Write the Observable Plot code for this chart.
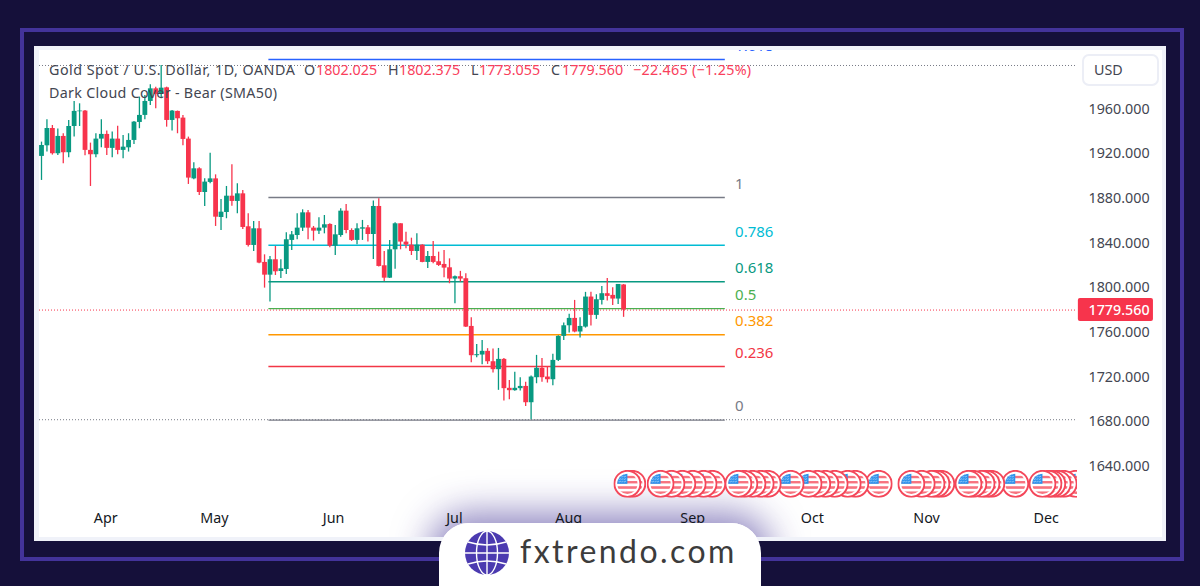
<!DOCTYPE html>
<html><head><meta charset="utf-8">
<script src="https://cdn.jsdelivr.net/npm/d3@7"></script>
<script src="https://cdn.jsdelivr.net/npm/@observablehq/plot@0.6"></script>
<style>
html,body{margin:0;padding:0;width:1200px;height:586px;overflow:hidden;background:#15103a;font-family:"Noto Sans",sans-serif}
.abs{position:absolute}
#frame{left:20px;top:28px;width:1156px;height:525px;border:4.5px solid #43339a;box-sizing:content-box}
#card{left:34px;top:46px;width:1132px;height:495px;background:#fff;overflow:hidden}
#glow{position:absolute;left:405px;top:477px;width:322px;height:90px;border-radius:30px;box-shadow:0 0 36px 10px rgba(50,32,140,.55)}
#band{left:34px;top:46px;width:1132px;height:495px;box-sizing:border-box;border:solid #f0f2f9;border-width:4px 4px 4.5px 5px;pointer-events:none}
.t{position:absolute;white-space:nowrap;font-size:14.3px;line-height:18px;color:#434651}
.r{color:#f9405c}
#usd{left:1082px;top:54px;width:77px;height:32px;box-sizing:border-box;border:2px solid #eceef6;border-radius:7px;font-size:14.3px;color:#434651;line-height:28px;padding-left:10px}
#pill{left:439px;top:523px;width:322px;height:90px;background:#fff;border-radius:30px 30px 0 0}
#logo{left:520px;top:531px;font-family:Lato,sans-serif;font-size:32px;line-height:40px;letter-spacing:2.45px;color:#3c3c3c}
</style></head><body>
<div class="abs" id="frame"></div>
<div class="abs" id="card"><div id="glow"></div></div>
<div id="plot" class="abs" style="left:34px;top:46px"></div>
<div class="abs" id="band"></div>
<div class="t" style="left:49px;top:61px;letter-spacing:.5px">Gold Spot / U.S. Dollar, 1D, OANDA</div>
<div class="t" style="left:304px;top:61px">O</div><div class="t r" style="left:316px;top:61px">1802.025</div>
<div class="t" style="left:388px;top:61px">H</div><div class="t r" style="left:399px;top:61px">1802.375</div>
<div class="t" style="left:471px;top:61px">L</div><div class="t r" style="left:479px;top:61px">1773.055</div>
<div class="t" style="left:551px;top:61px">C</div><div class="t r" style="left:562px;top:61px">1779.560</div>
<div class="t r" style="left:633px;top:61px;letter-spacing:.3px">−22.465 (−1.25%)</div>
<div class="t" style="left:49px;top:84px;letter-spacing:.3px">Dark Cloud Cover - Bear (SMA50)</div>
<div class="abs" id="usd">USD</div>
<div class="abs" id="pill"></div>
<svg class="abs" style="left:465px;top:531px" width="44" height="44" viewBox="-22 -22 44 44">
<circle r="22" fill="#4b3ab0"/>
<g fill="none" stroke="#fff" stroke-width="1.4"><ellipse rx="10.5" ry="22"/><line y1="-22" y2="22"/><line x1="-22" x2="22"/><path d="M-19-11Q0-5 19-11M-19 11Q0 5 19 11"/></g></svg>
<div class="abs" id="logo">fxtrendo.com</div>
<script>
const open = [1917.1,1926.6,1942.1,1919.5,1935,1920.4,1943.9,1957.1,1957.7,1922.5,1918.6,1932.6,1936.8,1924.3,1932.6,1922.5,1924.8,1931.4,1947.5,1953.8,1966.3,1977.6,1973.2,1978.5,1949.3,1957.4,1951.4,1932.6,1897,1906,1884.8,1893.8,1897,1862.4,1866.9,1881.5,1876.8,1883.6,1854.1,1837.4,1852.3,1822.2,1810.8,1824.6,1814.1,1815.9,1841.9,1846.3,1852.9,1866.6,1852.9,1850.2,1852.9,1856.2,1836.8,1846.3,1868.1,1850.8,1841.9,1852,1853.2,1847.2,1872.3,1819.2,1808.1,1833.5,1856.8,1840.4,1837.7,1832,1837.7,1822.2,1827.5,1822.8,1820.4,1817.4,1807.3,1809.4,1807.6,1764.9,1738.7,1739.3,1742.6,1733.3,1726.2,1735.4,1709.5,1707.4,1709.2,1711.2,1696.6,1719,1727.4,1719.6,1717.2,1734.5,1756,1765.5,1772.1,1759.9,1764.3,1791.2,1774.8,1788.2,1794.2,1792.7,1789.4,1802.025];
const close = [1926.9,1942.1,1919.5,1935,1920.4,1943.9,1957.4,1957.7,1922.5,1918.6,1932.6,1936.8,1924.3,1932.6,1922.5,1925.4,1931.4,1947.8,1953.8,1966.3,1977.6,1972.6,1978.2,1949.3,1957.7,1950.8,1932.3,1897.7,1906,1884.8,1894.1,1897,1862.7,1867.2,1881.5,1876.8,1883.6,1853.5,1837.4,1852.3,1821.6,1810.8,1824.6,1813.8,1816.5,1842.5,1846.9,1852.9,1866.6,1852.9,1850.2,1852.9,1855.9,1836.8,1846.9,1868.1,1850.8,1841.9,1852.3,1853.2,1847.2,1872.3,1818.6,1808.1,1833.5,1856.8,1840.4,1837.7,1832,1837.7,1822.2,1827.5,1822.2,1819.5,1817.1,1807.3,1809.4,1807.3,1764.3,1738.7,1739.6,1742.6,1733.3,1726.2,1735.4,1709.2,1707.4,1709.5,1711.2,1696.6,1719.6,1727.4,1719,1717.2,1734.5,1756,1765.5,1772.1,1759.9,1764.9,1791.2,1774.8,1788.8,1794.2,1791.8,1789.4,1802.5,1779.56];
const high = [1929.9,1949.9,1944.8,1941.6,1937.4,1949.3,1966.3,1964.2,1958.3,1929,1937.4,1949.9,1939.8,1939,1944.2,1935.9,1937.4,1948.4,1970.2,1971.7,1981.2,1979.1,1998.5,1979.1,1958.3,1957.7,1953.8,1934.4,1911.4,1906.9,1897,1920,1900.6,1878.6,1890.2,1909.6,1892.6,1886.6,1865.7,1858.9,1858.9,1829,1827.5,1836.5,1824.6,1848.7,1849.9,1865.7,1869.3,1868.7,1854.4,1862.1,1864.2,1856.8,1855.3,1870.2,1874.1,1852.3,1856.8,1859.8,1855.3,1877.1,1879.1,1832,1841.9,1857.7,1856.8,1849.3,1843.9,1847.8,1838,1832,1841,1831.4,1832.9,1825.4,1810,1814.2,1812.1,1772.7,1748.8,1752.4,1745,1744.7,1745.2,1736.3,1716.6,1723.8,1719,1715,1720.5,1739,1736.3,1728.5,1739.9,1756.6,1767.9,1775.7,1788.2,1772.7,1795.4,1795.4,1793.3,1800.7,1807.9,1799.5,1802.5,1802.375];
const low = [1895.6,1921,1918.3,1918,1910.5,1915.9,1934.4,1943.9,1917.7,1890.2,1915.9,1924.8,1918,1915.9,1918.6,1915,1921,1927.8,1941.9,1949.9,1962.7,1959.7,1968.7,1943.3,1939.8,1937.4,1926.6,1892,1896.2,1882.1,1872.3,1892.6,1854.4,1850.8,1861.3,1872.6,1865.7,1851.7,1835.9,1832,1821,1799.2,1786.7,1810.5,1807.8,1811.4,1832.9,1842.5,1849.9,1842.5,1841.3,1847.2,1847.8,1835.3,1828.4,1844.8,1847.8,1841,1838,1841.9,1840.4,1824.9,1818,1805.2,1807.8,1816.2,1833.5,1834.4,1828.4,1824,1821.9,1816.8,1821,1818.6,1808.4,1803.1,1785.2,1804.6,1764,1732.4,1736.9,1730.6,1730.9,1723.2,1707.7,1698.1,1699.3,1706.8,1707,1693.3,1681.4,1713.6,1715,1714.2,1711.8,1733.6,1752.4,1759,1759.2,1754.5,1763.4,1765.2,1771.2,1784,1787.6,1783.7,1784.6,1773.055];

const monthNames = ["Apr","May","Jun","Jul","Aug","Sep","Oct","Nov","Dec"];
const monthBars = [11.8,31.8,53.7,75.9,96.9,119.7,141.7,162.7,184.7];
const priceTicks = [1640,1680,1720,1760,1800,1840,1880,1920,1960];

const fibLevels = ["0","0.236","0.382","0.5","0.618","0.786","1","1.618"];
const fibPrices = [1681,1729,1757.4,1780.8,1804.9,1837.6,1880.3,2003.9];
const fibColors = ["#787b86","#f23645","#ff9800","#4caf50","#089981","#00bcd4","#787b86","#2962ff"];
const fibFrom = 41.8, fibTo = 125.7, fibLabelBar = 127.5;

const eventBars = [107.7,108.6,113.8,115.8,117.8,119.7,121.7,123.3,128.1,129.2,130.7,132.2,133.5,137.7,141,142.6,144.1,145.8,148.2,149.6,153.9,159.9,161.8,163.6,164.5,165.4,170.4,171.3,172.8,173.7,174.6,179,184,185.1,185.8,186.8,187.9,190.1];
const eventPrice = 1624;

const UP = "#089981", DOWN = "#f7344c";
const bars = open.map((o,i)=>({i,open:o,close:close[i],high:high[i],low:low[i],color:close[i]>=o?UP:DOWN}));
const fibs = fibLevels.map((level,k)=>({level,price:fibPrices[k],color:fibColors[k]}));
const events = eventBars.slice().reverse().map(x=>({x}));
const lastClose = close[close.length-1];

const flag = `<svg xmlns="http://www.w3.org/2000/svg" viewBox="0 0 28 28"><defs><clipPath id="c"><circle cx="14" cy="14" r="10.2"/></clipPath></defs><circle cx="14" cy="14" r="13" fill="#fff" stroke="#f4475a" stroke-width="1.9"/><g clip-path="url(#c)"><rect width="28" height="28" fill="#fff"/><rect x="2" y="6" width="24" height="2.4" fill="#f7737f"/><rect x="2" y="11.2" width="24" height="2.4" fill="#f7737f"/><rect x="2" y="16.4" width="24" height="2.6" fill="#f7737f"/><rect x="2" y="21.6" width="24" height="3" fill="#f7737f"/><rect x="3" y="3" width="11" height="11" fill="#2f92ec"/><path d="M6 4V14M8.5 4V14M11 4V14M4 6.5H14M4 9H14M4 11.5H14" stroke="#bfe0fb" stroke-width=".7" stroke-dasharray="1,1.5"/></g></svg>`;
const flagUri = "data:image/svg+xml," + encodeURIComponent(flag);

const chart = Plot.plot({
  width:1132, height:495,
  marginTop:0, marginBottom:36, marginLeft:5, marginRight:89,
  style:{background:"transparent",fontFamily:"'Noto Sans',sans-serif",fontSize:"14.3px",overflow:"hidden"},
  x:{domain:[-0.368,190.44],axis:null},
  y:{domain:[1604.6,2015.5],axis:null},
  color:{type:"identity"},
  marks:[
    Plot.ruleY([d3.max(high),d3.min(low)],{stroke:"#787b86",strokeWidth:1,strokeDasharray:"1,2"}),
    Plot.ruleY([lastClose],{stroke:DOWN,strokeWidth:1,strokeDasharray:"1,2"}),
    Plot.ruleY(fibs,{y:"price",x1:()=>fibFrom,x2:()=>fibTo,stroke:"color",strokeWidth:1.4}),
    Plot.text(fibs,{x:()=>fibLabelBar,y:"price",text:"level",fill:"color",textAnchor:"start",dy:-13.5,fontSize:15}),
    Plot.ruleX(bars,{x:"i",y1:"low",y2:"high",stroke:"color",strokeWidth:1.3}),
    Plot.ruleX(bars,{x:"i",y1:"open",y2:"close",stroke:"color",strokeWidth:4.8}),
    Plot.image(events,{x:"x",y:()=>eventPrice,src:()=>flagUri,width:28,height:28,clip:true}),
    Plot.axisY(priceTicks,{anchor:"right",tickSize:0,tickPadding:11,tickFormat:d3.format(".3f"),label:null,fill:"#434651",dy:0.5}),
    Plot.axisX(monthBars,{anchor:"bottom",tickSize:0,tickPadding:7,tickFormat:d=>monthNames[monthBars.indexOf(d)],fill:"#131722",label:null}),
    Plot.rect([lastClose],{x1:()=>190.6,x2:()=>204.4,y1:d=>d-10.3,y2:d=>d+10.3,fill:()=>DOWN,rx:2}),
    Plot.text([lastClose],{x:()=>192.46,y:d=>d,text:d=>d.toFixed(3),fill:"#fff",textAnchor:"start",fontWeight:500})
  ]
});
document.getElementById("plot").append(chart);
</script>
</body></html>
